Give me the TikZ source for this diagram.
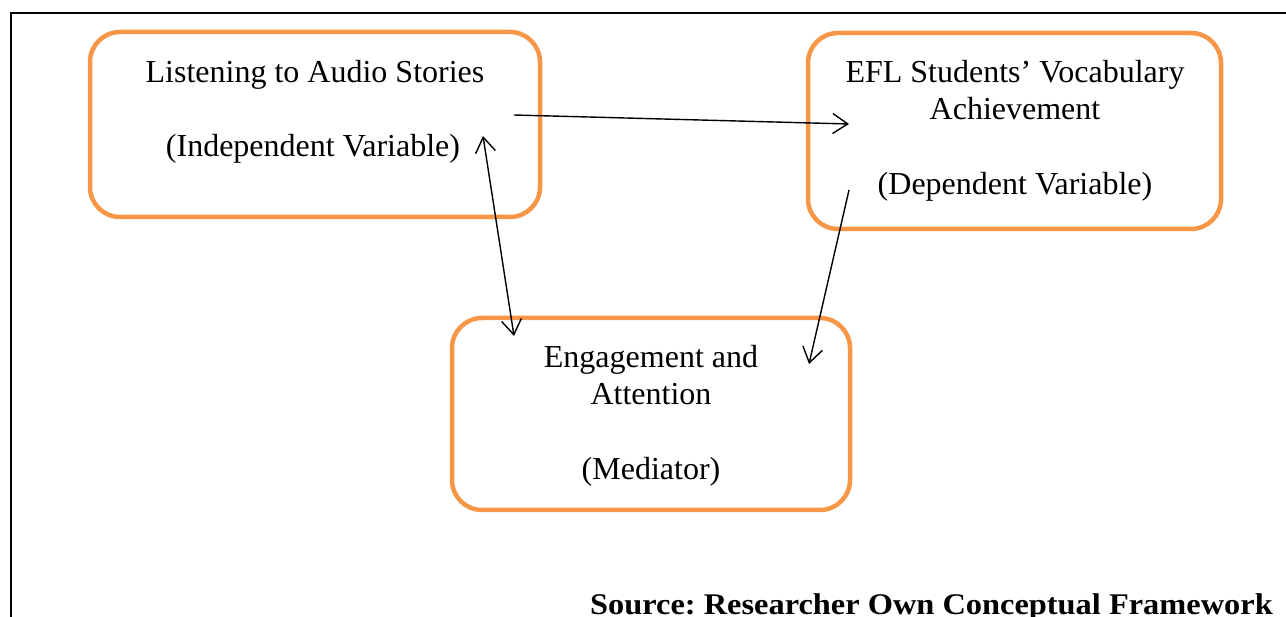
\documentclass[tikz,border=0pt]{standalone}
\usepackage{fontspec}
\setmainfont{Liberation Serif}
\newfontfamily\srcfont[FakeStretch=1.08]{Liberation Serif}
\usetikzlibrary{arrows.meta}
\definecolor{boxorange}{HTML}{F79646}
\tikzset{
  varbox/.style={draw=boxorange, line width=4.5pt, rounded corners=30pt, inner sep=0pt, fill=none},
  lbl/.style={anchor=base, inner sep=0pt, font=\fontsize{32}{37}\selectfont},
  conn/.style={line width=1.4pt, -{Straight Barb[length=15pt,width=20pt,line width=1.4pt]}},
  frameline/.style={line width=2pt, line cap=rect}
}
\begin{document}
\begin{tikzpicture}[x=1pt,y=-1pt]
\useasboundingbox (0,0) rectangle (1286,617);
% frame
\coordinate (fTL) at (11,13);
\coordinate (fTR) at (1286,13);
\coordinate (fBL) at (11,617);
\draw[frameline] (fBL) -- (fTL) -- (fTR);
% boxes
\node[varbox, minimum width=450pt, minimum height=185pt] (iv) at (315,124.5) {};
\node[varbox, minimum width=413pt, minimum height=196pt] (dv) at (1014.5,131) {};
\node[varbox, minimum width=398pt, minimum height=192pt] (med) at (651,414) {};
% labels
\node[lbl] (iv1) at (315,83) {Listening to Audio Stories};
\node[lbl] (iv2) at (313,157) {(Independent Variable)};
\node[lbl] (dv1) at (1015,83) {EFL Students’ Vocabulary};
\node[lbl] (dv2) at (1015,120) {Achievement};
\node[lbl] (dv3) at (1015,195) {(Dependent Variable)};
\node[lbl] (m1) at (651,368) {Engagement and};
\node[lbl] (m2) at (651,405) {Attention};
\node[lbl] (m3) at (651,480) {(Mediator)};
\node[anchor=base east, inner sep=0pt, font=\srcfont\fontsize{30}{34}\selectfont\bfseries\frenchspacing] (src) at (1273,614) {Source: Researcher Own Conceptual Framework};
% connectors
\coordinate (a1s) at (514,115);
\coordinate (a1e) at (849,124);
\coordinate (a2s) at (483,136);
\coordinate (a2e) at (514,336);
\coordinate (a3s) at (849,190);
\coordinate (a3e) at (809,364);
\draw[conn] (a1s) -- (a1e);
\draw[conn, {Straight Barb[length=15pt,width=20pt,line width=1.4pt]}-{Straight Barb[length=15pt,width=20pt,line width=1.4pt]}] (a2s) -- (a2e);
\draw[conn] (a3s) -- (a3e);
\end{tikzpicture}
\end{document}
